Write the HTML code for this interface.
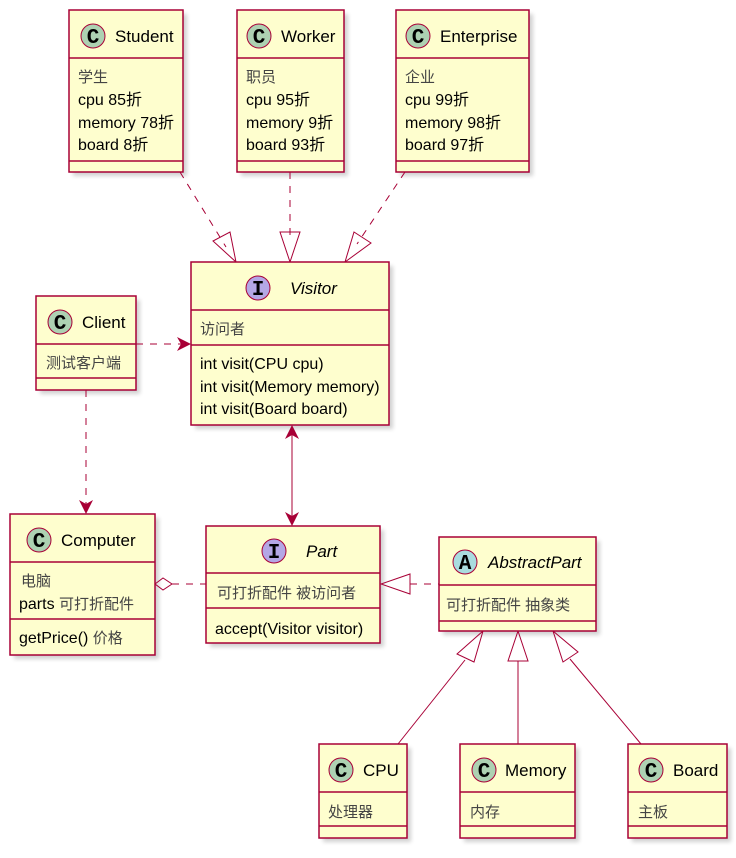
<!DOCTYPE html>
<html><head><meta charset="utf-8"><style>
body{margin:0;background:#fff;}
svg{display:block;}
text{font-family:"Liberation Sans","Noto Sans CJK SC",sans-serif;font-size:16px;fill:#000;}
.b{fill:#FEFECE;stroke:#A80036;stroke-width:1.5;}
.l{stroke:#A80036;stroke-width:1.5;}
.sh{fill:#000;opacity:0.18;filter:url(#blur);}
.e{stroke:#A80036;stroke-width:1;fill:none;}
.d{stroke-dasharray:7,7;}
.it{font-style:italic;}
.g{fill:#444;font-size:15px;}
.n{font-size:17px;}
.c{font-family:"Liberation Mono",monospace;font-size:21px;font-weight:bold;text-anchor:middle;}
</style></head><body>
<svg width="736" height="858" viewBox="0 0 736 858">
<defs><filter id="blur"><feGaussianBlur stdDeviation="2"/></filter></defs>

<rect class="sh" x="73" y="14" width="114" height="162"/>
<rect class="sh" x="241" y="14" width="107" height="162"/>
<rect class="sh" x="400" y="14" width="133" height="162"/>
<rect class="sh" x="195" y="266" width="198" height="163"/>
<rect class="sh" x="40" y="300" width="100" height="94"/>
<rect class="sh" x="14" y="518" width="145" height="141"/>
<rect class="sh" x="210" y="530" width="174" height="117"/>
<rect class="sh" x="443" y="541" width="157" height="94"/>
<rect class="sh" x="323" y="748" width="88" height="94"/>
<rect class="sh" x="464" y="748" width="115" height="94"/>
<rect class="sh" x="632" y="748" width="99" height="94"/>

<line class="e d" x1="180" y1="172" x2="226" y2="247"/>
<polygon class="e" fill="#fff" points="236,262 213,241 230,232"/>
<line class="e d" x1="290" y1="172" x2="290" y2="242"/>
<polygon class="e" fill="#fff" points="290,262 280,232 300,232"/>
<line class="e d" x1="405" y1="172" x2="357" y2="244"/>
<polygon class="e" fill="#fff" points="345,262 354,232 371,243"/>
<line class="e d" x1="136" y1="344" x2="189" y2="344"/>
<polygon fill="#A80036" points="191,344 177,337 181,344 177,351"/>
<line class="e d" x1="86" y1="390" x2="86" y2="512"/>
<polygon fill="#A80036" points="86,514 79,500 86,504 93,500"/>
<line class="e" x1="292" y1="426" x2="292" y2="524"/>
<polygon fill="#A80036" points="292,425 285,439 292,435 299,439"/>
<polygon fill="#A80036" points="292,526 285,512 292,516 299,512"/>
<line class="e d" x1="172" y1="584" x2="206" y2="584"/>
<polygon class="e" fill="#fff" points="155,584 163,578 172,584 163,590"/>
<line class="e d" x1="410" y1="584" x2="439" y2="584"/>
<polygon class="e" fill="#fff" points="381,584 410,574 410,594"/>
<line class="e" x1="398" y1="744" x2="465" y2="660"/>
<polygon class="e" fill="#fff" points="483,631 474,662 457,654"/>
<line class="e" x1="518" y1="744" x2="518" y2="661"/>
<polygon class="e" fill="#fff" points="518,631 508,661 528,661"/>
<line class="e" x1="641" y1="744" x2="570" y2="659"/>
<polygon class="e" fill="#fff" points="553,631 578,652 563,662"/>

<!-- Student -->
<rect class="b" x="69" y="10" width="114" height="162"/>
<line class="l" x1="69" y1="58" x2="183" y2="58"/><line class="l" x1="69" y1="161" x2="183" y2="161"/>
<circle cx="93" cy="36" r="12" fill="#ADD1B2" stroke="#A80036"/><text class="c" x="93" y="43">C</text>
<text class="n" x="115" y="42">Student</text>
<text class="g" x="78" y="82">学生</text><text x="78" y="105">cpu 85折</text><text x="78" y="128">memory 78折</text><text x="78" y="150">board 8折</text>

<!-- Worker -->
<rect class="b" x="237" y="10" width="107" height="162"/>
<line class="l" x1="237" y1="58" x2="344" y2="58"/><line class="l" x1="237" y1="161" x2="344" y2="161"/>
<circle cx="259" cy="36" r="12" fill="#ADD1B2" stroke="#A80036"/><text class="c" x="259" y="43">C</text>
<text class="n" x="281" y="42">Worker</text>
<text class="g" x="246" y="82">职员</text><text x="246" y="105">cpu 95折</text><text x="246" y="128">memory 9折</text><text x="246" y="150">board 93折</text>

<!-- Enterprise -->
<rect class="b" x="396" y="10" width="133" height="162"/>
<line class="l" x1="396" y1="58" x2="529" y2="58"/><line class="l" x1="396" y1="161" x2="529" y2="161"/>
<circle cx="418" cy="36" r="12" fill="#ADD1B2" stroke="#A80036"/><text class="c" x="418" y="43">C</text>
<text class="n" x="440" y="42">Enterprise</text>
<text class="g" x="405" y="82">企业</text><text x="405" y="105">cpu 99折</text><text x="405" y="128">memory 98折</text><text x="405" y="150">board 97折</text>

<!-- Visitor -->
<rect class="b" x="191" y="262" width="198" height="163"/>
<line class="l" x1="191" y1="310" x2="389" y2="310"/><line class="l" x1="191" y1="345" x2="389" y2="345"/>
<circle cx="258" cy="288" r="12" fill="#B4A7E5" stroke="#A80036"/><text class="c" x="258" y="295">I</text>
<text class="it n" x="290" y="294">Visitor</text>
<text class="g" x="200" y="334">访问者</text>
<text x="200" y="369">int visit(CPU cpu)</text><text x="200" y="392">int visit(Memory memory)</text><text x="200" y="414">int visit(Board board)</text>

<!-- Client -->
<rect class="b" x="36" y="296" width="100" height="94"/>
<line class="l" x1="36" y1="344" x2="136" y2="344"/><line class="l" x1="36" y1="378" x2="136" y2="378"/>
<circle cx="60" cy="322" r="12" fill="#ADD1B2" stroke="#A80036"/><text class="c" x="60" y="329">C</text>
<text class="n" x="82" y="328">Client</text>
<text class="g" x="46" y="368">测试客户端</text>

<!-- Computer -->
<rect class="b" x="10" y="514" width="145" height="141"/>
<line class="l" x1="10" y1="562" x2="155" y2="562"/><line class="l" x1="10" y1="619" x2="155" y2="619"/>
<circle cx="39" cy="540" r="12" fill="#ADD1B2" stroke="#A80036"/><text class="c" x="39" y="547">C</text>
<text class="n" x="61" y="546">Computer</text>
<text class="g" x="21" y="586">电脑</text><text x="19" y="609">parts <tspan class="g">可打折配件</tspan></text>
<text x="19" y="643">getPrice() <tspan class="g">价格</tspan></text>

<!-- Part -->
<rect class="b" x="206" y="526" width="174" height="117"/>
<line class="l" x1="206" y1="573" x2="380" y2="573"/><line class="l" x1="206" y1="608" x2="380" y2="608"/>
<circle cx="274" cy="551" r="12" fill="#B4A7E5" stroke="#A80036"/><text class="c" x="274" y="558">I</text>
<text class="it n" x="306" y="557">Part</text>
<text class="g" x="217" y="598">可打折配件 被访问者</text>
<text x="215" y="634">accept(Visitor visitor)</text>

<!-- AbstractPart -->
<rect class="b" x="439" y="537" width="157" height="94"/>
<line class="l" x1="439" y1="585" x2="596" y2="585"/><line class="l" x1="439" y1="621" x2="596" y2="621"/>
<circle cx="465" cy="562" r="12" fill="#A9DCDF" stroke="#A80036"/><text class="c" x="465" y="569">A</text>
<text class="it n" x="488" y="568">AbstractPart</text>
<text class="g" x="446" y="610">可打折配件 抽象类</text>

<!-- CPU -->
<rect class="b" x="319" y="744" width="88" height="94"/>
<line class="l" x1="319" y1="792" x2="407" y2="792"/><line class="l" x1="319" y1="826" x2="407" y2="826"/>
<circle cx="341" cy="770" r="12" fill="#ADD1B2" stroke="#A80036"/><text class="c" x="341" y="777">C</text>
<text class="n" x="363" y="776">CPU</text>
<text class="g" x="328" y="817">处理器</text>

<!-- Memory -->
<rect class="b" x="460" y="744" width="115" height="94"/>
<line class="l" x1="460" y1="792" x2="575" y2="792"/><line class="l" x1="460" y1="826" x2="575" y2="826"/>
<circle cx="484" cy="770" r="12" fill="#ADD1B2" stroke="#A80036"/><text class="c" x="484" y="777">C</text>
<text class="n" x="505" y="776">Memory</text>
<text class="g" x="470" y="817">内存</text>

<!-- Board -->
<rect class="b" x="628" y="744" width="99" height="94"/>
<line class="l" x1="628" y1="792" x2="727" y2="792"/><line class="l" x1="628" y1="826" x2="727" y2="826"/>
<circle cx="651" cy="770" r="12" fill="#ADD1B2" stroke="#A80036"/><text class="c" x="651" y="777">C</text>
<text class="n" x="673" y="776">Board</text>
<text class="g" x="638" y="817">主板</text>
</svg>
</body></html>
